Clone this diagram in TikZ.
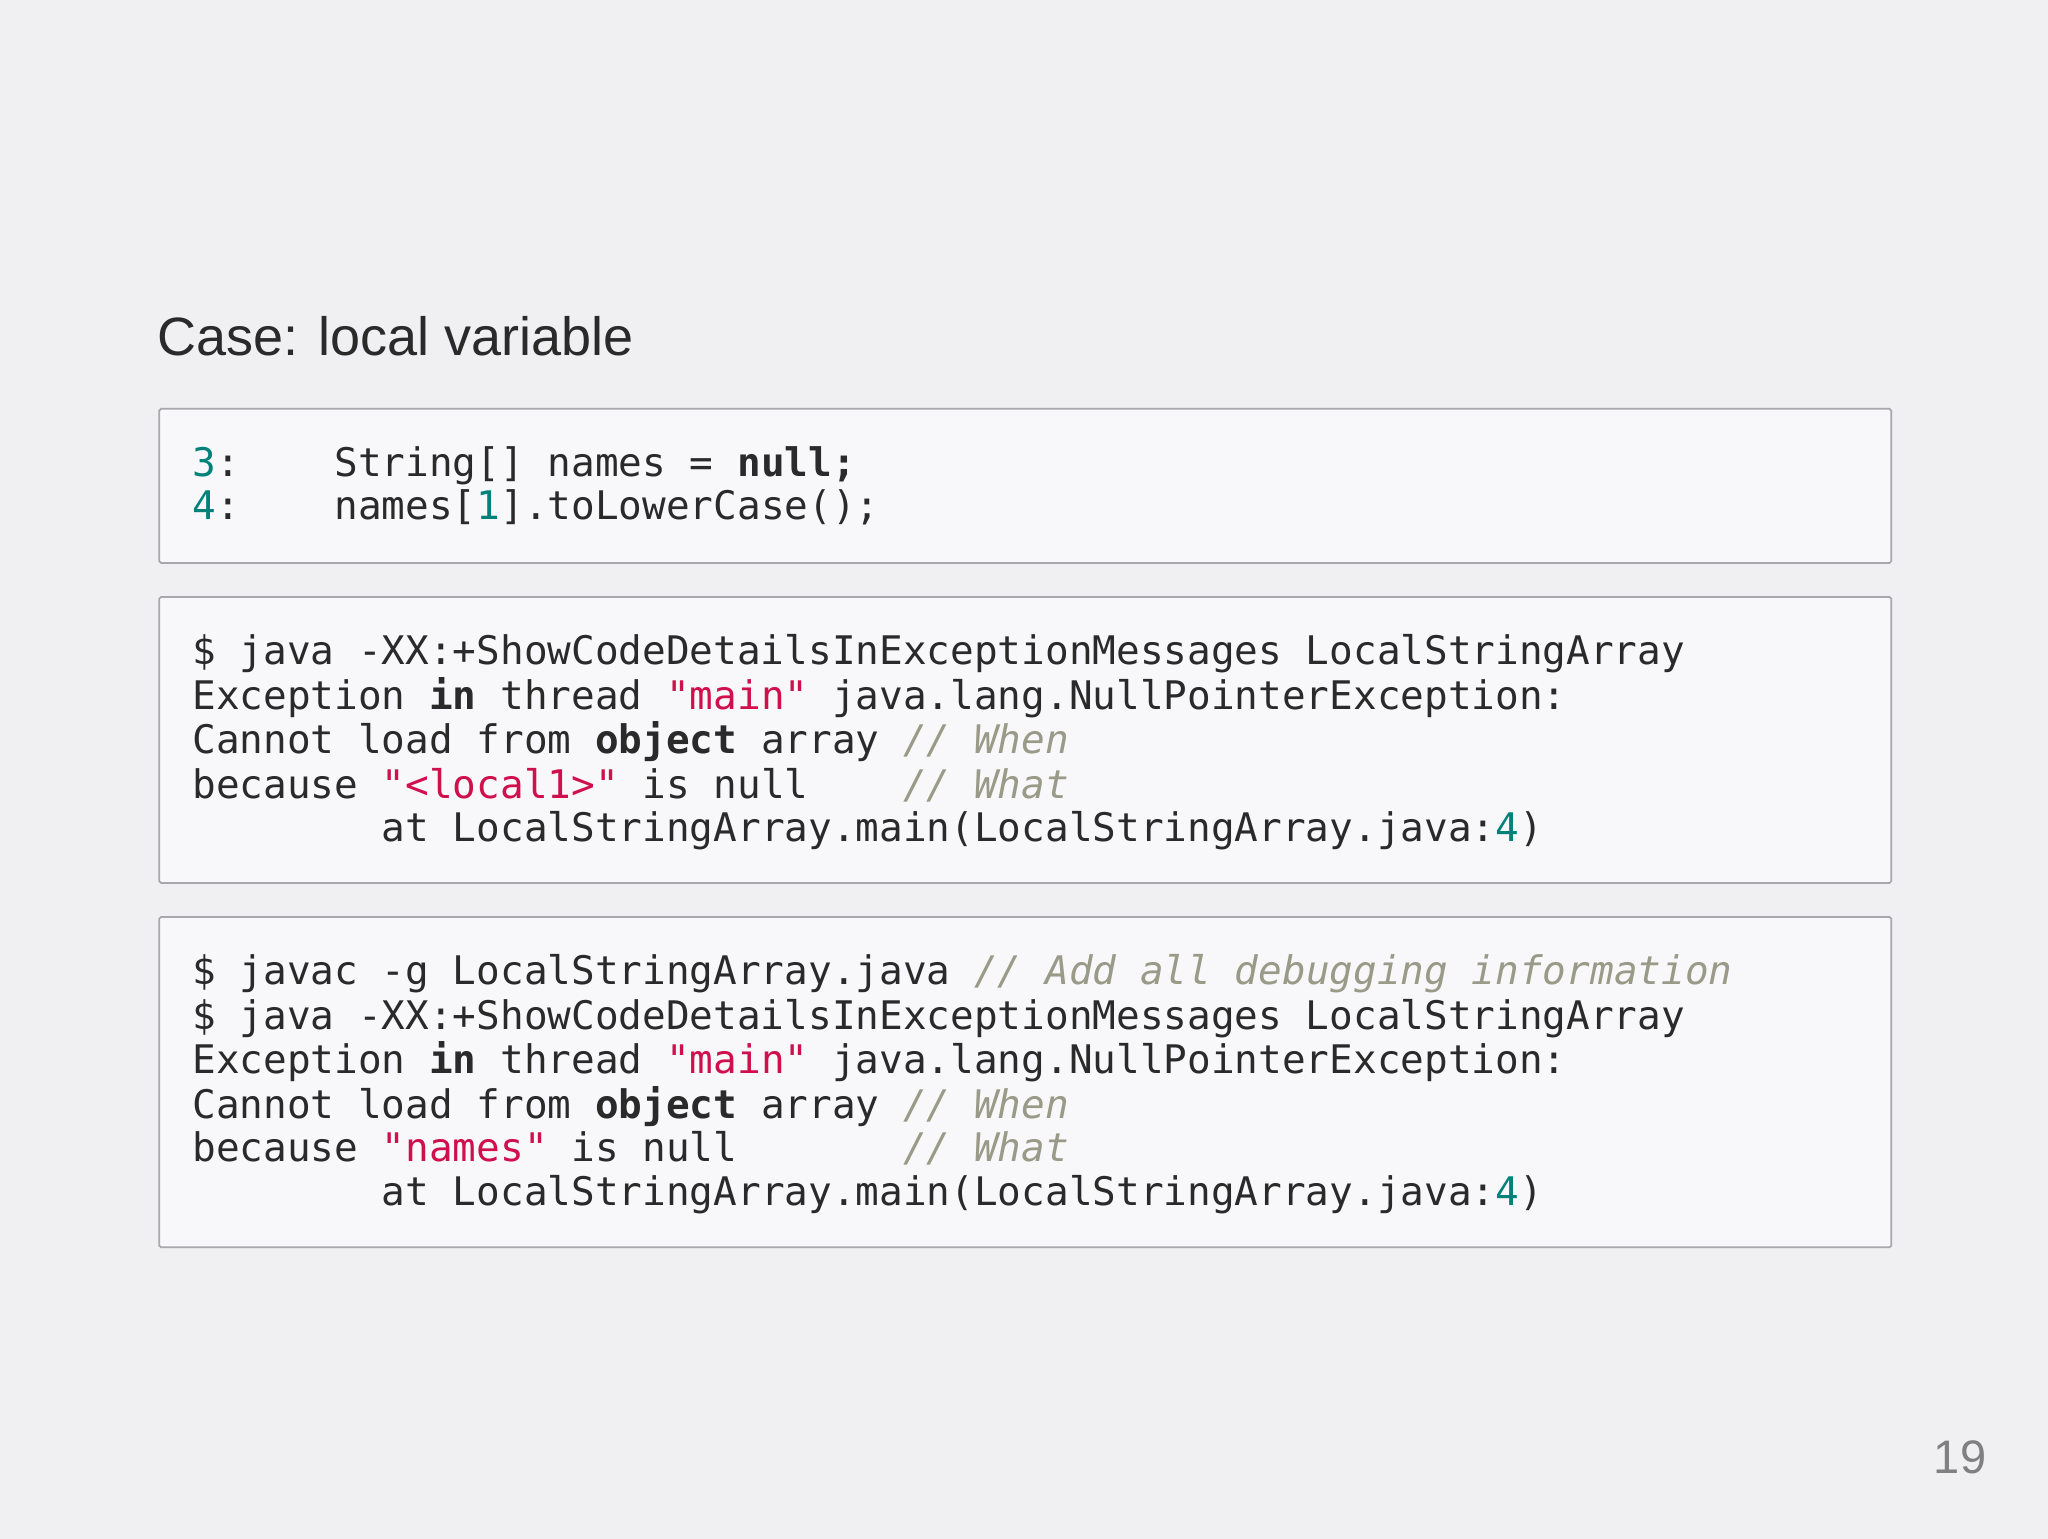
\documentclass[tikz,border=0pt]{standalone}
\usepackage{fontspec}
\setmainfont{Liberation Sans}
\setmonofont{DejaVu Sans Mono}
\definecolor{bg}{HTML}{F0F0F2}
\definecolor{boxfill}{HTML}{F8F8FA}
\definecolor{boxline}{HTML}{A8A8AC}
\definecolor{teal}{HTML}{00827A}
\definecolor{crim}{HTML}{D0104C}
\definecolor{cmt}{HTML}{9A9A88}
\definecolor{txt}{HTML}{2A2A2A}
\newcommand{\nm}[1]{\textcolor{teal}{#1}}
\newcommand{\st}[1]{\textcolor{crim}{#1}}
\newcommand{\cm}[1]{\textcolor{cmt}{\itshape #1}}
\begin{document}
\begin{tikzpicture}[x=0.75pt,y=-0.75pt,
  codebox/.style={draw=boxline,fill=boxfill,line width=1pt,rounded corners=1pt},
  code/.style={anchor=base west,inner sep=0pt,font=\ttfamily\fontsize{22.6}{25}\selectfont,text=txt}]
\fill[bg] (0,0) rectangle (1568,1178);
\useasboundingbox (0,0) rectangle (1568,1178);
\node[anchor=base west,inner sep=0pt,font=\fontsize{31}{36}\selectfont,text=txt] (title) at (120,272) {Case: local variable};
\node[anchor=base east,inner sep=0pt,font=\fontsize{27}{32}\selectfont,text=gray] (page) at (1521,1128) {19};
\draw[codebox] (122,313) rectangle (1448,431);
\draw[codebox] (122,457) rectangle (1448,676);
\draw[codebox] (122,702) rectangle (1448,955);
% box 1
\node[code] (a1) at (147,365) {\nm{3}:~~~~String[]~names~=~\textbf{null;}};
\node[code] (a2) at (147,398) {\nm{4}:~~~~names[\nm{1}].toLowerCase();};
% box 2
\node[code] (b1) at (147,509) {\$~java~-XX:+ShowCodeDetailsInExceptionMessages~LocalStringArray};
\node[code] (b2) at (147,543) {Exception~\textbf{in}~thread~\st{"main"}~java.lang.NullPointerException:};
\node[code] (b3) at (147,577) {Cannot~load~from~\textbf{object}~array~\cm{//~When}};
\node[code] (b4) at (147,611) {because~\st{"<local1>"}~is~null~~~~\cm{//~What}};
\node[code] (b5) at (147,644) {~~~~~~~~at~LocalStringArray.main(LocalStringArray.java:\nm{4})};
% box 3
\node[code] (c1) at (147,754) {\$~javac~-g~LocalStringArray.java~\cm{//~Add~all~debugging~information}};
\node[code] (c2) at (147,788) {\$~java~-XX:+ShowCodeDetailsInExceptionMessages~LocalStringArray};
\node[code] (c3) at (147,822) {Exception~\textbf{in}~thread~\st{"main"}~java.lang.NullPointerException:};
\node[code] (c4) at (147,856) {Cannot~load~from~\textbf{object}~array~\cm{//~When}};
\node[code] (c5) at (147,889) {because~\st{"names"}~is~null~~~~~~~\cm{//~What}};
\node[code] (c6) at (147,923) {~~~~~~~~at~LocalStringArray.main(LocalStringArray.java:\nm{4})};
\end{tikzpicture}
\end{document}
